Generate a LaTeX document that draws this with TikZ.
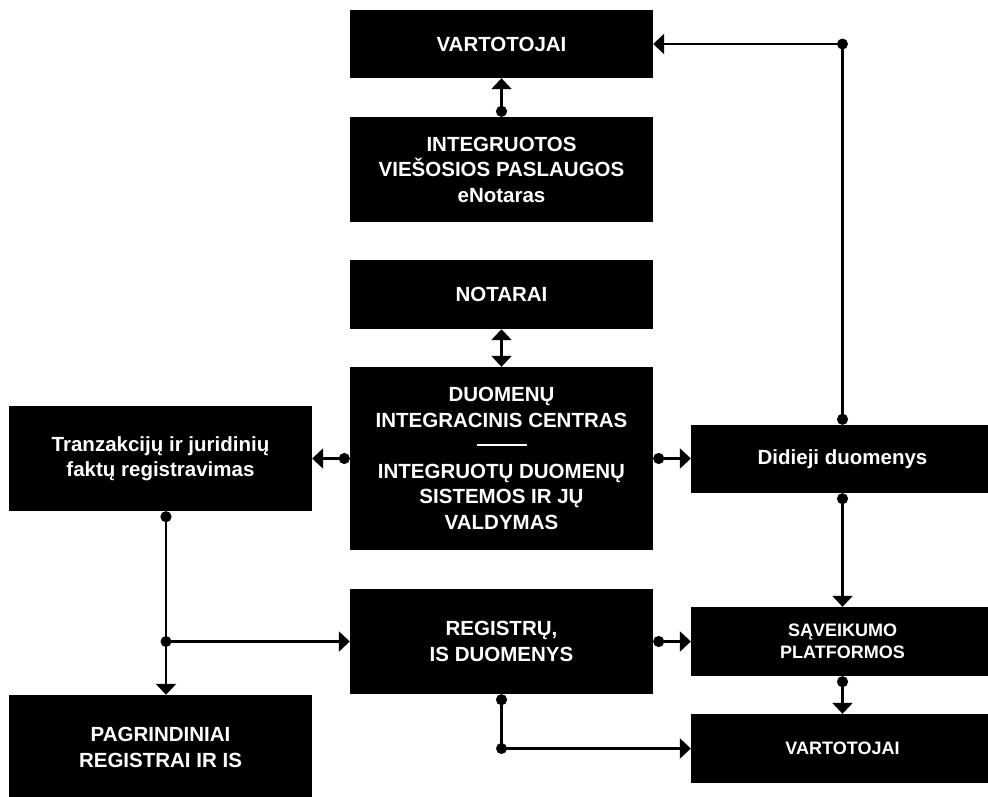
\documentclass[tikz,border=0pt]{standalone}
\usepackage{fontspec}
\setmainfont{Liberation Sans}
\usetikzlibrary{arrows.meta,calc}
\begin{document}
\begin{tikzpicture}[x=1pt,y=-1pt,
  blk/.style={fill=black,text=white,font=\bfseries\fontsize{20.5}{25.5}\selectfont,
    align=center,inner sep=0pt,minimum width=303pt},
  smalltext/.style={font=\bfseries\fontsize{18}{22}\selectfont},
  conn/.style={line width=2.6pt,{Circle[length=11pt]}-{Triangle[length=11pt,width=20pt]}},
  dotonly/.style={line width=2.6pt,{Circle[length=11pt]}-},
  plain/.style={line width=2.6pt,-{Triangle[length=11pt,width=20pt]}},
  twoway/.style={line width=2.6pt,{Triangle[length=11pt,width=20pt]}-{Triangle[length=11pt,width=20pt]}},
  dot/.style={fill=black}]
\useasboundingbox (0,0) rectangle (988,796);

% boxes
\node[blk,minimum height=68pt] (vt) at (501.5,44) {VARTOTOJAI};
\node[blk,minimum height=105pt] (ivp) at (501.5,169.5)
  {INTEGRUOTOS\\VIEŠOSIOS PASLAUGOS\\eNotaras};
\node[blk,minimum height=69pt] (not) at (501.5,294.5) {NOTARAI};
\node[blk,minimum height=183pt] (dic) at (501.5,458.5)
  {DUOMENŲ\\INTEGRACINIS CENTRAS\\\rule[7pt]{50pt}{1.5pt}\\INTEGRUOTŲ DUOMENŲ\\SISTEMOS IR JŲ\\VALDYMAS};
\node[blk,minimum height=105pt] (tr) at (160.5,458.5)
  {Tranzakcijų ir juridinių\\faktų registravimas};
\node[blk,minimum height=68pt] (dd) at (842.5,459) {Didieji duomenys};
\node[blk,minimum height=105pt] (reg) at (501.5,641.5) {REGISTRŲ,\\IS DUOMENYS};
\node[blk,smalltext,minimum height=69pt] (sp) at (842.5,641.5) {SĄVEIKUMO\\PLATFORMOS};
\node[blk,smalltext,minimum height=69pt] (vb) at (842.5,748.5) {VARTOTOJAI};
\node[blk,minimum height=105pt] (pag) at (160.5,747.5) {PAGRINDINIAI\\REGISTRAI IR IS};

% connectors
\draw[conn] (ivp.north) -- (vt.south);
\draw[twoway] (not.south) -- (dic.north);
\draw[conn] (dic.west) -- (tr.east);
\draw[conn] (dic.east) -- (dic.east -| dd.west);

\coordinate (ur) at (dd.north |- vt.east);
\draw[dotonly] (dd.north) -- (ur);
\draw[plain] (ur) -- (vt.east);
\fill[dot] (ur) circle[radius=5.5pt];

\draw[conn] (dd.south) -- (sp.north);
\draw[conn] (sp.south) -- (vb.north);
\draw[conn] (reg.east) -- (sp.west);

\coordinate (lr) at (reg.south |- vb.west);
\draw[dotonly] (reg.south) -- (lr);
\draw[plain] (lr) -- (vb.west);
\fill[dot] (lr) circle[radius=5.5pt];

\coordinate (ts) at ($(tr.south)+(5.5,0)$);
\coordinate (tb) at (ts |- reg.west);
\draw[conn] (ts) -- (ts |- pag.north);
\draw[plain] (tb) -- (reg.west);
\fill[dot] (tb) circle[radius=5.5pt];
\end{tikzpicture}
\end{document}
